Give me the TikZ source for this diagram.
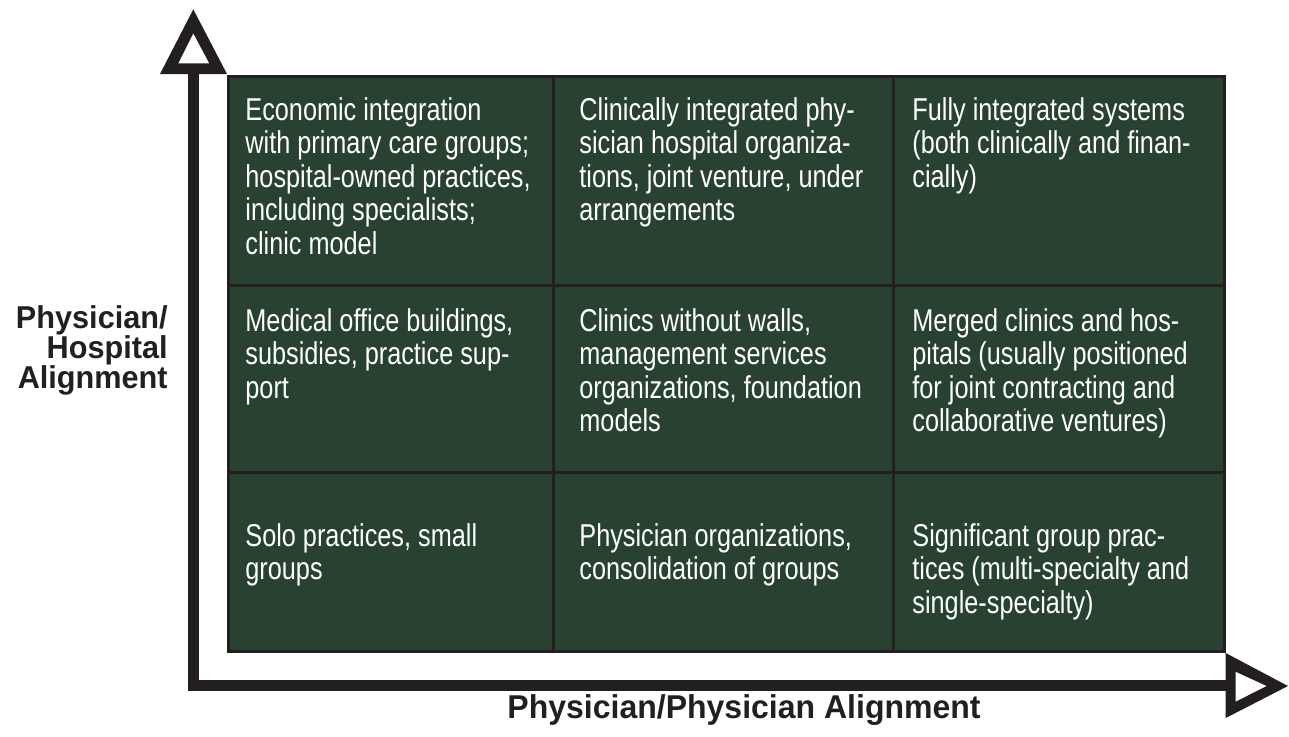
\documentclass[tikz,border=0pt]{standalone}
\usepackage{fontspec}
\newfontfamily\cellfont{Liberation Sans}[FakeStretch=0.8]
\newfontfamily\axisfont{Liberation Sans}[FakeStretch=0.97]
\definecolor{frame}{RGB}{35,31,32}
\definecolor{cellgreen}{RGB}{40,65,48}

\begin{document}
\begin{tikzpicture}[x=0.5pt,y=-0.5pt,
    cell/.style={anchor=north west,inner sep=0pt,align=left,text=white,
      font=\cellfont\fontsize{15.8}{16.75}\selectfont},
    axislabel/.style={inner sep=0pt,text=frame,
      font=\axisfont\bfseries\fontsize{15.8}{15}\selectfont},
    head/.style={fill=frame,even odd rule}]
        \useasboundingbox (0,0) rectangle (1289,736);

        % the nine fields
        \fill[cellgreen] (228,76) rectangle (1224.5,651);
        \draw[frame,line width=1.5pt] (228,76) rectangle (1224.5,651);
        \draw[frame,line width=1.5pt] (553,76) -- (553,651) (893,76) -- (893,651);
        \draw[frame,line width=1.5pt] (228,285) -- (1224.5,285) (228,472) -- (1224.5,472);

        % axes
        \coordinate (origin) at (193.8,685.5);
        \coordinate (ytip) at (193.8,74);
        \coordinate (xtip) at (1225.7,685.5);
        \draw[frame,line width=5.5pt] (ytip) -- (origin) -- (xtip);
        \fill[head] (160,74) -- (193.3,9.3) -- (227,74) -- cycle
          (178.3,63.3) -- (193.3,33.3) -- (209.3,63.3) -- cycle;
        \fill[head] (1225.7,653) -- (1288,686) -- (1225.7,718) -- cycle
          (1235.7,671.7) -- (1266.7,686) -- (1235.7,701.7) -- cycle;

        \node[cell] (econ) at (245,97) {Economic integration\\with primary care groups;\\hospital-owned practices,\\including specialists;\\clinic model};
        \node[cell] (clinint) at (579,97) {Clinically integrated phy-\\sician hospital organiza-\\tions, joint venture, under\\arrangements};
        \node[cell] (fullint) at (912,97) {Fully integrated systems\\(both clinically and finan-\\cially)};

        \node[cell] (office) at (245,308) {Medical office buildings,\\subsidies, practice sup-\\port};
        \node[cell] (nowalls) at (579,308) {Clinics without walls,\\management services\\organizations, foundation\\models};
        \node[cell] (merged) at (912,308) {Merged clinics and hos-\\pitals (usually positioned\\for joint contracting and\\collaborative ventures)};

        \node[cell] (solo) at (245,523) {Solo practices, small\\groups};
        \node[cell] (phyorg) at (579,523) {Physician organizations,\\consolidation of groups};
        \node[cell] (group) at (912,523) {Significant group prac-\\tices (multi-specialty and\\single-specialty)};

        \node[axislabel,anchor=north east,align=right] (hosplabel) at (168,305) {Physician/\\Hospital\\Alignment};
        \node[axislabel,anchor=north,font=\axisfont\bfseries\fontsize{16.5}{17}\selectfont] (phylabel) at (744,694) {Physician/Physician Alignment};
      \end{tikzpicture}
\end{document}
